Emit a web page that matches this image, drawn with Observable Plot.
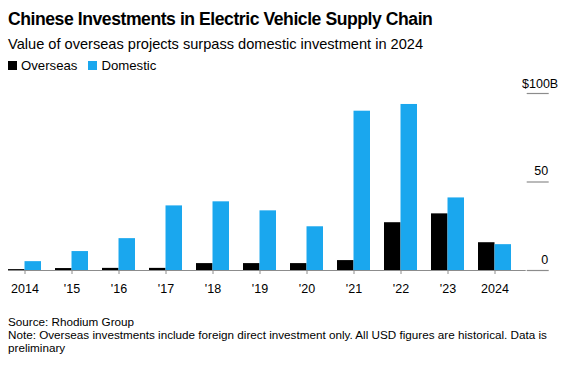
<!DOCTYPE html>
<html>
<head>
<meta charset="utf-8">
<script src="https://cdn.jsdelivr.net/npm/d3@7"></script>
<script src="https://cdn.jsdelivr.net/npm/@observablehq/plot@0.6"></script>
<style>
  html, body { margin: 0; padding: 0; background: #fff; }
  body { width: 567px; height: 368px; position: relative; overflow: hidden; font-family: "Liberation Sans", Arial, sans-serif; color: #000; }
  .abs { position: absolute; left: 8px; white-space: nowrap; }
  #title { top: 10.5px; font-size: 17.6px; font-weight: bold; line-height: 1; letter-spacing: -0.45px; }
  #subtitle { top: 36.5px; font-size: 14.6px; line-height: 1; }
  #legend { top: 59px; font-size: 13.2px; line-height: 1; display: flex; align-items: center; }
  #legend .sw { display: inline-block; width: 9px; height: 9px; margin-right: 4px; }
  #legend .item { display: inline-flex; align-items: center; margin-right: 11px; }
  #chart { position: absolute; left: 0; top: 76px; }
  #footer { top: 314.5px; font-size: 11.7px; line-height: 13.3px; color: #000; white-space: normal; width: 552px; }
</style>
</head>
<body>
<div id="title" class="abs">Chinese Investments in Electric Vehicle Supply Chain</div>
<div id="subtitle" class="abs">Value of overseas projects surpass domestic investment in 2024</div>
<div id="legend" class="abs"></div>
<div id="chart"></div>
<div id="footer" class="abs">Source: Rhodium Group<br>Note: Overseas investments include foreign direct investment only. All USD figures are historical. Data is preliminary</div>
<script>
const years = [2014, 2015, 2016, 2017, 2018, 2019, 2020, 2021, 2022, 2023, 2024];
const overseas = [0.5, 1.1, 1.2, 1.2, 3.9, 3.9, 3.9, 5.6, 27, 32, 15.7];
const domestic = [5, 10.7, 18, 36.5, 38.8, 33.7, 24.7, 90, 93.8, 41, 14.6];
const seriesNames = ["Overseas", "Domestic"];
const seriesColors = ["#000000", "#1aa7ee"];
const yTicks = [0, 50, 100];

const rows = years.flatMap((y, i) => [
  {year: y, series: "Overseas", value: overseas[i]},
  {year: y, series: "Domestic", value: domestic[i]}
]);

// legend
const legend = document.getElementById("legend");
seriesNames.forEach((s, i) => {
  const it = document.createElement("span");
  it.className = "item";
  it.innerHTML = `<span class="sw" style="background:${seriesColors[i]}"></span>${s}`;
  legend.appendChild(it);
});

const W = 567, H = 224, mL = 8, mR = 41.3;
const pInner = 0.3, pOuter = 0.1375;
const step = (W - mL - mR) / (years.length - pInner + 2 * pOuter);
const halfBand = step * (1 - pInner) / 2;

const fmtX = d => (d === years[0] || d === years[years.length - 1]) ? String(d) : "'" + String(d).slice(2);
const fmtY = d => d === yTicks[yTicks.length - 1] ? "$" + d + "B" : String(d);

const plot = Plot.plot({
  width: W,
  height: H,
  marginLeft: mL,
  marginRight: mR,
  marginTop: 17,
  marginBottom: 30,
  style: {fontFamily: "Liberation Sans, Arial, sans-serif", fontSize: "12.5px", color: "#000", background: "transparent"},
  x: {type: "band", domain: years, paddingInner: pInner, paddingOuter: pOuter, align: 0, label: null},
  y: {domain: [0, 100], label: null},
  color: {domain: seriesNames, range: seriesColors},
  marks: [
    Plot.ruleY([0], {stroke: "#8c8c8c", strokeWidth: 1.2}),
    Plot.barY(rows.filter(d => d.series === "Overseas"), {x: "year", y: "value", fill: "series", insetRight: halfBand}),
    Plot.barY(rows.filter(d => d.series === "Domestic"), {x: "year", y: "value", fill: "series", insetLeft: halfBand}),
    Plot.axisX({tickSize: 4, tickPadding: 10, tickFormat: fmtX, stroke: "#8c8c8c", fill: "#000", fontSize: 12.5}),
    // short gridline ticks on the right
    Plot.axisY({anchor: "right", ticks: yTicks, tickSize: 22, tickFormat: () => "", stroke: "#8c8c8c", strokeWidth: 1.2, label: null}),
    // labels above the ticks
    Plot.axisY({anchor: "right", ticks: yTicks.slice(0, 2), tickSize: 0, tickPadding: 22, textAnchor: "end", dy: -11, fill: "#000", fontSize: 12.5, tickFormat: fmtY, label: null}),
    Plot.axisY({anchor: "right", ticks: yTicks.slice(2), tickSize: 0, tickPadding: 22, textAnchor: "end", dx: 10, dy: -10, fill: "#000", fontSize: 12.5, tickFormat: fmtY, label: null})
  ]
});
document.getElementById("chart").appendChild(plot);
</script>
</body>
</html>
